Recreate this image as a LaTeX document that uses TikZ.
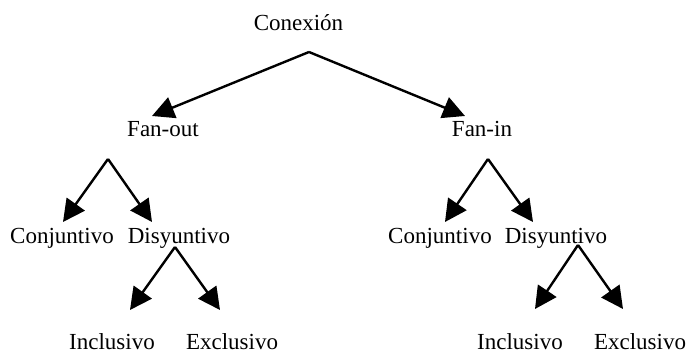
\documentclass[tikz,border=0pt]{standalone}
\usepackage{fontspec}
\setmainfont{Liberation Serif}
\usetikzlibrary{arrows.meta}
\begin{document}
\begin{tikzpicture}[x=0.5pt,y=-0.5pt,line width=1.2pt,
lbl/.style={anchor=base,inner sep=0pt,font=\fontsize{11.5}{13}\selectfont},
arr/.style={-{Triangle[length=11pt,width=11pt]}}]
\useasboundingbox(0,0)rectangle(687,352);
% labels
\node[lbl](con)at(298.5,31){Conexión};
\node[lbl](fo)at(163,137){Fan-out};
\node[lbl](fi)at(482,137){Fan-in};
\node[lbl](foc)at(62,244){Conjuntivo};
\node[lbl](fod)at(179,244){Disyuntivo};
\node[lbl](fic)at(440,244){Conjuntivo};
\node[lbl](fid)at(556,244){Disyuntivo};
\node[lbl](foi)at(112,350){Inclusivo};
\node[lbl](foe)at(232,350){Exclusivo};
\node[lbl](fii)at(520,350){Inclusivo};
\node[lbl](fie)at(640,350){Exclusivo};
% apexes and tips
\coordinate(conA)at(309,52);
\coordinate(foA)at(108,159);
\coordinate(fiA)at(488,159);
\coordinate(fodA)at(175,247);
\coordinate(fidA)at(578,245);
\coordinate(foT)at(152,116);
\coordinate(fiT)at(465,116);
\coordinate(focT)at(63,222);
\coordinate(fodT)at(152,222);
\coordinate(ficT)at(445,222);
\coordinate(fidT)at(533,222);
\coordinate(foiT)at(130,310);
\coordinate(foeT)at(220,310);
\coordinate(fiiT)at(535,309);
\coordinate(fieT)at(623,309);
% arrows
\draw[arr](conA)--(foT);
\draw[arr](conA)--(fiT);
\draw[arr](foA)--(focT);
\draw[arr](foA)--(fodT);
\draw[arr](fiA)--(ficT);
\draw[arr](fiA)--(fidT);
\draw[arr](fodA)--(foiT);
\draw[arr](fodA)--(foeT);
\draw[arr](fidA)--(fiiT);
\draw[arr](fidA)--(fieT);
\end{tikzpicture}
\end{document}
